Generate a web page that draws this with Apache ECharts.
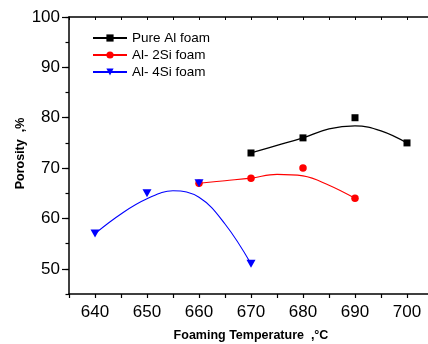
<!DOCTYPE html>
<html>
<head>
<meta charset="utf-8">
<script src="https://cdn.jsdelivr.net/npm/echarts@6/dist/echarts.min.js"></script>
<style>html,body{margin:0;padding:0;background:#fff}#c{width:428px;height:344px}</style>
</head>
<body>
<div id="c"></div>
<script>
// Measured points
var pureX = [670, 680, 690, 700];
var pureY = [73, 76, 80, 75];
var si2X = [660, 670, 680, 690];
var si2Y = [67, 68, 70, 64];
var si4X = [640, 650, 660, 670];
var si4Y = [57, 65, 67, 51];
// Fitted curves
var pureFitX = [670, 675, 680, 685, 690, 695, 700];
var pureFitY = [73, 74.5, 76, 77.8, 78.4, 77.4, 75];
var si2FitX = [660, 665, 670, 675, 680, 685, 690];
var si2FitY = [67, 67.5, 68, 68.75, 68.45, 66.6, 64];
var si4FitX = [640, 645, 650, 655, 660, 665, 670];
var si4FitY = [57, 60.9, 63.9, 65.5, 64.2, 58.9, 51];
var seriesNames = ['Pure Al foam', 'Al- 2Si foam', 'Al- 4Si foam'];
var yMajorTicks = [50, 60, 70, 80, 90, 100];

function pairs(xs, ys) { return xs.map(function (x, i) { return [x, ys[i]]; }); }

var FONT = 'Liberation Sans, Arial, sans-serif';
var chart = echarts.init(document.getElementById('c'), null, { renderer: 'canvas' });
var axisLine = { show: true, lineStyle: { color: '#000', width: 1.5 } };

chart.setOption({
  animation: false,
  backgroundColor: '#fff',
  grid: { left: 69, top: 17, width: 364, height: 277, containLabel: false, outerBoundsMode: 'none' },
  legend: {
    data: seriesNames,
    orient: 'vertical',
    left: 92, top: 31, padding: 0,
    itemWidth: 34, itemHeight: 9, itemGap: 3,
    textStyle: { fontFamily: FONT, fontSize: 13.5, color: '#000' }
  },
  xAxis: [{
    type: 'value', min: 635, max: 705, interval: 5, position: 'bottom',
    name: 'Foaming Temperature  ,°C', nameLocation: 'middle', nameGap: 35, nameMoveOverlap: false,
    nameTextStyle: { fontFamily: FONT, fontSize: 12.5, fontWeight: 'bold', color: '#000' },
    axisLine: axisLine,
    axisTick: { show: true, length: 4, lineStyle: { color: '#000', width: 1.2 } },
    axisLabel: { fontFamily: FONT, fontSize: 17, color: '#000', margin: 10,
      formatter: function (v) { return v % 10 === 0 ? String(v) : ''; } },
    splitLine: { show: false }
  }, {
    type: 'value', min: 635, max: 705, interval: 5, position: 'top',
    axisLine: axisLine,
    axisTick: { show: true, inside: true, length: 3, lineStyle: { color: '#000', width: 1 } },
    axisLabel: { show: false }, splitLine: { show: false }
  }],
  yAxis: [{
    type: 'value', min: 45, max: 100, interval: 5, position: 'left',
    name: 'Porosity  ,%', nameLocation: 'middle', nameGap: 42, nameMoveOverlap: false,
    nameTextStyle: { fontFamily: FONT, fontSize: 12.5, fontWeight: 'bold', color: '#000', padding: [0, 0, 0, 4] },
    axisLine: axisLine,
    axisTick: { show: true, length: 3.5, lineStyle: { color: '#000', width: 1.2 } },
    axisLabel: { fontFamily: FONT, fontSize: 17, color: '#000', margin: 9,
      formatter: function (v) { return v % 10 === 0 ? String(v) : ''; } },
    splitLine: { show: false }
  }, {
    type: 'value', min: 45, max: 100, position: 'left',
    axisLine: { show: false },
    axisTick: { show: true, length: 7, customValues: yMajorTicks, lineStyle: { color: '#000', width: 1.2 } },
    axisLabel: { show: false }, splitLine: { show: false }
  }],
  series: [
    { name: 'Pure Al foam', type: 'line', smooth: 0.4, data: pairs(pureFitX, pureFitY),
      symbol: 'rect', showSymbol: false, color: '#000',
      lineStyle: { color: '#000', width: 1.3 }, itemStyle: { color: '#000' }, z: 2 },
    { name: 'Pure Al foam pts', type: 'scatter', data: pairs(pureX, pureY),
      symbol: 'rect', symbolSize: 7, itemStyle: { color: '#000', opacity: 1 }, z: 3 },
    { name: 'Al- 2Si foam', type: 'line', smooth: 0.4, data: pairs(si2FitX, si2FitY),
      symbol: 'circle', showSymbol: false, color: '#ff0000',
      lineStyle: { color: '#ff0000', width: 1.1 }, itemStyle: { color: '#ff0000' }, z: 4 },
    { name: 'Al- 2Si foam pts', type: 'scatter', data: pairs(si2X, si2Y),
      symbol: 'circle', symbolSize: 7.5, itemStyle: { color: '#ff0000', opacity: 1 }, z: 5 },
    { name: 'Al- 4Si foam', type: 'line', smooth: 0.4, data: pairs(si4FitX, si4FitY),
      symbol: 'triangle', symbolRotate: 180, showSymbol: false, color: '#0000ff',
      lineStyle: { color: '#0000ff', width: 1.1 }, itemStyle: { color: '#0000ff' }, z: 6 },
    { name: 'Al- 4Si foam pts', type: 'scatter', data: pairs(si4X, si4Y),
      symbol: 'triangle', symbolRotate: 180, symbolSize: [9, 8], itemStyle: { color: '#0000ff', opacity: 1 }, z: 7 }
  ]
});
</script>
</body>
</html>
